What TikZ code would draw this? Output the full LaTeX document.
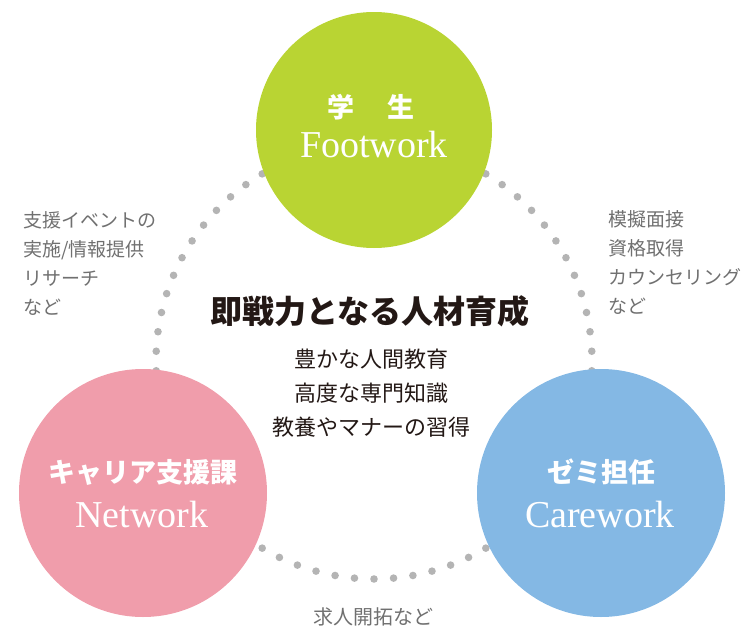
\documentclass[tikz,border=0pt]{standalone}
\usepackage{fontspec}
\setmainfont{Liberation Serif}
\newfontfamily\jp{Noto Sans CJK JP}
\usepackage{xcolor}

\definecolor{gakusei}{RGB}{185,212,51}
\definecolor{career}{RGB}{240,157,171}
\definecolor{zemi}{RGB}{132,184,228}
\definecolor{dotgray}{RGB}{180,180,180}
\definecolor{notegray}{RGB}{112,112,112}
\definecolor{inkblack}{RGB}{35,24,21}

\begin{document}
\begin{tikzpicture}[x=1pt, y=-1pt,
    ring/.style={circle, minimum size=#1, inner sep=0pt},
    ringtitle/.style={text=white, font=\jp\bfseries\fontsize{27}{30}\selectfont},
    ringword/.style={text=white, font=\fontsize{38}{40}\selectfont, anchor=base},
    note/.style={text=notegray, font=\jp\fontsize{19}{29}\selectfont, align=left, anchor=north west, inner sep=0pt}]

        \useasboundingbox (0,0) rectangle (745,632);

        % Dotted ring
        \foreach \i in {0,...,69}
            \fill[dotgray] ({374+218*cos(90+\i*36/7)},{361+218*sin(90+\i*36/7)}) circle (3.8);

        % Circles
        \node[ring=236pt, fill=gakusei] (student) at (374,130) {};
        \node[ring=248pt, fill=career] (career) at (143,493) {};
        \node[ring=248pt, fill=zemi] (seminar) at (601,493) {};

        % Circle labels
        \node[ringtitle] (student-title) at (371,107) {学\hspace{34pt}生};
        \node[ringword] (student-word) at (374,157) {Footwork};
        \node[ringtitle] (career-title) at (143,472) {キャリア支援課};
        \node[ringword] (career-word) at (142,527) {Network};
        \node[ringtitle] (seminar-title) at (601,472) {ゼミ担任};
        \node[ringword] (seminar-word) at (600,527) {Carework};

        % Center text
        \node[text=inkblack, font=\jp\bfseries\fontsize{32}{34}\selectfont] (goal) at (370,311) {即戦力となる人材育成};
        \node[text=inkblack, font=\jp\fontsize{22}{34}\selectfont, align=center] (goal-items) at (371,393) {豊かな人間教育\\高度な専門知識\\教養やマナーの習得};

        % Notes
        \node[note] (career-note) at (23,211) {支援イベントの\\実施/情報提供\\リサーチ\\など};
        \node[note] (seminar-note) at (608,210) {模擬面接\\資格取得\\カウンセリング\\など};
        \node[text=notegray, font=\jp\fontsize{20}{24}\selectfont] (bottom-note) at (373,617) {求人開拓など};

    \end{tikzpicture}
\end{document}
